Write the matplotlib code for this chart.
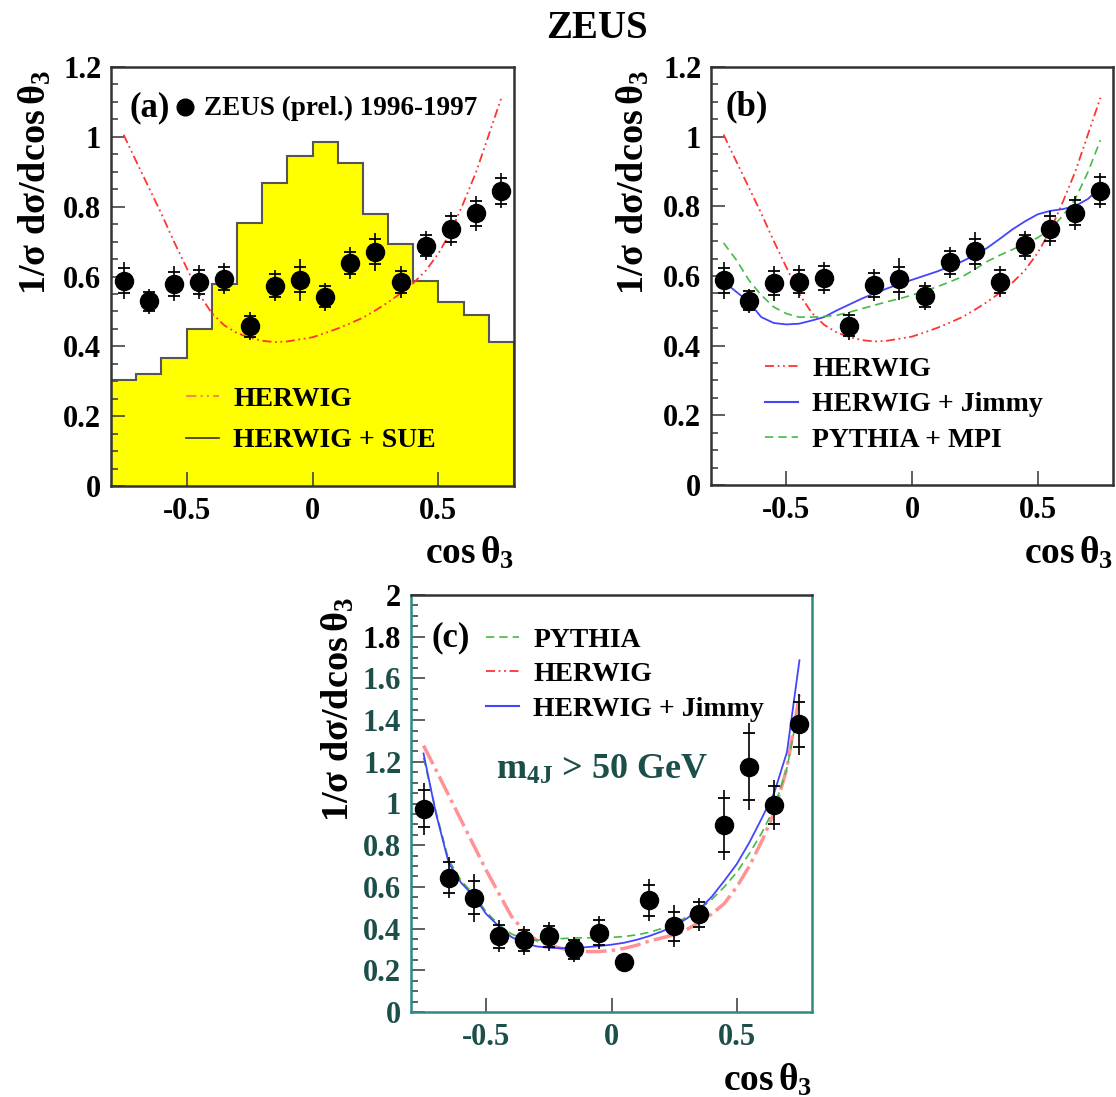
import matplotlib
matplotlib.use('Agg')
import matplotlib.pyplot as plt
from matplotlib.lines import Line2D
from matplotlib.ticker import MultipleLocator

plt.rcParams['font.family'] = ['Liberation Serif', 'DejaVu Serif']
plt.rcParams['font.weight'] = 'bold'
plt.rcParams['mathtext.fontset'] = 'custom'
plt.rcParams['mathtext.rm'] = 'Liberation Serif:bold'
plt.rcParams['mathtext.it'] = 'Liberation Serif'
plt.rcParams['mathtext.bf'] = 'Liberation Serif:bold'

# bin centres and edges
xc = [-0.75, -0.65, -0.55, -0.45, -0.35, -0.25, -0.15, -0.05,
      0.05, 0.15, 0.25, 0.35, 0.45, 0.55, 0.65, 0.75]
edges = [-0.8, -0.7, -0.6, -0.5, -0.4, -0.3, -0.2, -0.1, 0.0,
         0.1, 0.2, 0.3, 0.4, 0.5, 0.6, 0.7, 0.8]

# ZEUS data, panels a and b
data_ab = [0.588, 0.529, 0.579, 0.584, 0.594, 0.457, 0.574, 0.591,
           0.542, 0.639, 0.671, 0.584, 0.688, 0.736, 0.781, 0.845]
tot_ab = [0.053, 0.035, 0.05, 0.048, 0.045, 0.04, 0.045, 0.06,
          0.04, 0.045, 0.055, 0.045, 0.042, 0.05, 0.05, 0.05]
stat_ab = [0.036, 0.028, 0.034, 0.034, 0.034, 0.03, 0.034, 0.036,
           0.03, 0.032, 0.036, 0.032, 0.03, 0.036, 0.036, 0.038]

# HERWIG + SUE histogram (a)
sue = [0.303, 0.320, 0.368, 0.450, 0.579, 0.752, 0.867, 0.945,
       0.986, 0.925, 0.778, 0.693, 0.588, 0.526, 0.489, 0.411]

# model curves, panels a and b
xm = [-0.75, -0.7, -0.65, -0.6, -0.55, -0.5, -0.45, -0.4, -0.35, -0.3,
      -0.25, -0.2, -0.15, -0.1, -0.05, 0.0, 0.05, 0.1, 0.15, 0.2,
      0.25, 0.3, 0.35, 0.4, 0.45, 0.5, 0.55, 0.6, 0.65, 0.7, 0.75]
herwig = [1.006, 0.93, 0.855, 0.78, 0.70, 0.625, 0.55, 0.495, 0.46, 0.438,
          0.425, 0.416, 0.412, 0.414, 0.42, 0.426, 0.438, 0.451, 0.466, 0.482,
          0.503, 0.526, 0.552, 0.581, 0.617, 0.666, 0.73, 0.812, 0.9, 1.006, 1.112]
jimmy = [0.584, 0.555, 0.526, 0.482, 0.465, 0.461, 0.463, 0.472, 0.482, 0.501,
         0.518, 0.535, 0.55, 0.564, 0.577, 0.589, 0.601, 0.613, 0.627, 0.642,
         0.66, 0.681, 0.707, 0.734, 0.757, 0.777, 0.787, 0.792, 0.801, 0.821, 0.855]
pythia_mpi = [0.695, 0.647, 0.589, 0.545, 0.511, 0.492, 0.482, 0.482, 0.484, 0.487,
              0.496, 0.506, 0.516, 0.526, 0.535, 0.545, 0.557, 0.569, 0.583, 0.598,
              0.619, 0.642, 0.66, 0.676, 0.693, 0.71, 0.734, 0.773, 0.821, 0.898, 0.99]

# panel c, m4J > 50 GeV
data_c = [0.975, 0.645, 0.549, 0.364, 0.343, 0.364, 0.300, 0.380,
          0.239, 0.536, 0.412, 0.468, 0.897, 1.177, 0.994, 1.379]
tot_c = [0.125, 0.10, 0.115, 0.075, 0.07, 0.07, 0.06, 0.08,
         0.04, 0.10, 0.10, 0.08, 0.17, 0.21, 0.12, 0.145]
stat_c = [0.09, 0.075, 0.08, 0.055, 0.05, 0.05, 0.045, 0.06,
          0.03, 0.075, 0.07, 0.06, 0.13, 0.16, 0.09, 0.11]
jimmy_c = [1.24, 0.95, 0.717, 0.62, 0.556, 0.47, 0.412, 0.36, 0.332, 0.315,
           0.308, 0.306, 0.308, 0.311, 0.316, 0.323, 0.332, 0.346, 0.364, 0.386,
           0.412, 0.448, 0.492, 0.553, 0.629, 0.71, 0.813, 0.93, 1.054, 1.246, 1.687]
pythia_c = [1.22, 0.96, 0.73, 0.63, 0.565, 0.48, 0.42, 0.375, 0.35, 0.345,
            0.348, 0.352, 0.355, 0.356, 0.356, 0.358, 0.362, 0.37, 0.382, 0.40,
            0.425, 0.455, 0.49, 0.54, 0.6, 0.67, 0.76, 0.86, 0.98, 1.17, 1.48]
herwig_c = [1.278, 1.16, 1.04, 0.92, 0.80, 0.68, 0.57, 0.46, 0.39, 0.345,
            0.32, 0.305, 0.295, 0.29, 0.29, 0.295, 0.305, 0.32, 0.34, 0.355,
            0.37, 0.395, 0.43, 0.47, 0.52, 0.6, 0.70, 0.82, 0.96, 1.17, 1.52]

yt_ab = [0, 0.2, 0.4, 0.6, 0.8, 1, 1.2]
yt_c = [0, 0.2, 0.4, 0.6, 0.8, 1, 1.2, 1.4, 1.6, 1.8, 2]
xt = [-0.5, 0, 0.5]

RED = '#ff3333'
BLUE = '#4444ff'
GREEN = '#44bb44'
DASHDOTDOT = (0, (5, 2, 1, 2, 1, 2))
DASHED = (0, (5, 3))

fig = plt.figure(figsize=(11.16, 10.97), dpi=100)
W, H = 1116.0, 1097.0


def add_ax(x0, y0, x1, y1):
    return fig.add_axes([x0 / W, 1 - y1 / H, (x1 - x0) / W, (y1 - y0) / H])


def style(ax, ymax, yticks):
    ax.set_xlim(-0.8, 0.8)
    ax.set_ylim(0, ymax)
    ax.set_yticks(yticks)
    ax.set_yticklabels(['%g' % v for v in yticks])
    ax.yaxis.set_minor_locator(MultipleLocator(0.05))
    ax.set_xticks(xt)
    ax.set_xticklabels(['%g' % v for v in xt])
    ax.tick_params(which='both', direction='in', top=False, right=False,
                   labelsize=22, width=1.2, color='#444444')
    ax.tick_params(which='major', length=10)
    ax.tick_params(which='minor', length=5)
    ax.tick_params(axis='y', pad=7)
    ax.tick_params(axis='x', pad=8)
    for sp in ax.spines.values():
        sp.set_linewidth(1.8)
        sp.set_color('#333333')
    for lab in ax.get_yticklabels() + ax.get_xticklabels():
        lab.set_fontweight('bold')


def data_points(ax, y, tot, stat):
    ax.errorbar(xc, y, yerr=tot, fmt='o', color='black', ms=13,
                elinewidth=1.2, capsize=0, zorder=5)
    ax.errorbar(xc, y, yerr=stat, fmt='none', ecolor='black',
                elinewidth=0, capsize=4.5, capthick=1.3, zorder=5)


ylab = r'1/$\sigma$ d$\sigma$/dcos$\,\theta_3$'
xlab = r'cos$\,\theta_3$'
LEG = dict(loc='upper left', frameon=False, fontsize=20,
           handlelength=1.2, handletextpad=0.5)

# ---------------- panel (a)
axa = add_ax(111, 67, 514, 486)
axa.stairs(sue, edges, fill=True, color='#ffff00', zorder=1)
axa.stairs(sue, edges, color='#555555', lw=1.5, zorder=2)
axa.plot(xm, herwig, color=RED, lw=1.3, ls=DASHDOTDOT, zorder=3)
data_points(axa, data_ab, tot_ab, stat_ab)
style(axa, 1.2, yt_ab)
axa.text(0.047, 0.902, '(a)', transform=axa.transAxes, fontsize=25, va='center')
axa.plot([0.184], [0.905], 'o', color='black', ms=12, transform=axa.transAxes, clip_on=False)
axa.text(0.231, 0.902, 'ZEUS (prel.) 1996-1997', transform=axa.transAxes,
         fontsize=19.5, va='center')
ha = [Line2D([], [], color='#ff8844', lw=1.5, ls=DASHDOTDOT),
      Line2D([], [], color='#333333', lw=1.2)]
axa.legend(ha, ['HERWIG', 'HERWIG + SUE'], bbox_to_anchor=(0.124, 0.298),
           labelspacing=0.59, **LEG)
fig.text(35 / W, 1 - 70 / H, ylab, rotation=90, ha='center', va='top', fontsize=27.5)
fig.text(514 / W, 1 - 553 / H, xlab, ha='right', va='center', fontsize=27)

# ---------------- panel (b)
axb = add_ax(711, 67, 1113, 485)
axb.plot(xm, herwig, color=RED, lw=1.3, ls=DASHDOTDOT, zorder=3)
axb.plot(xm, jimmy, color=BLUE, lw=1.3, zorder=3)
axb.plot(xm, pythia_mpi, color=GREEN, lw=1.2, ls=DASHED, zorder=3)
data_points(axb, data_ab, tot_ab, stat_ab)
style(axb, 1.2, yt_ab)
axb.text(0.037, 0.904, '(b)', transform=axb.transAxes, fontsize=25, va='center')
hb = [Line2D([], [], color=RED, lw=1.3, ls=DASHDOTDOT),
      Line2D([], [], color=BLUE, lw=1.5),
      Line2D([], [], color=GREEN, lw=1.2, ls=DASHED)]
axb.legend(hb, ['HERWIG', 'HERWIG + Jimmy', 'PYTHIA + MPI'],
           bbox_to_anchor=(0.072, 0.368), labelspacing=0.37, **LEG)
fig.text(633 / W, 1 - 70 / H, ylab, rotation=90, ha='center', va='top', fontsize=27.5)
fig.text(1113 / W, 1 - 553 / H, xlab, ha='right', va='center', fontsize=27)

# ---------------- panel (c)
axc = add_ax(411, 595, 812, 1012)
axc.plot(xm, herwig_c, color='#ff7777', lw=2.5, ls=(0, (6, 1.5, 1, 1.5)), alpha=0.8, zorder=3)
axc.plot(xm, pythia_c, color=GREEN, lw=1.2, ls=DASHED, zorder=3)
axc.plot(xm, jimmy_c, color=BLUE, lw=1.3, zorder=3)
data_points(axc, data_c, tot_c, stat_c)
style(axc, 2.0, yt_c)
for lab in axc.get_yticklabels()[:9] + axc.get_xticklabels():
    lab.set_color('#1d4f4a')
for s in ['bottom', 'left', 'right']:
    axc.spines[s].set_color('#2a8c82')
axc.text(0.052, 0.897, '(c)', transform=axc.transAxes, fontsize=25, va='center')
hc = [Line2D([], [], color=GREEN, lw=1.2, ls=DASHED),
      Line2D([], [], color=RED, lw=1.3, ls=DASHDOTDOT),
      Line2D([], [], color=BLUE, lw=1.5)]
axc.legend(hc, ['PYTHIA', 'HERWIG', 'HERWIG + Jimmy'],
           bbox_to_anchor=(0.125, 0.983), labelspacing=0.33, **LEG)
axc.text(0.212, 0.58, r'm$_{\mathbf{4J}}$ > 50 GeV', transform=axc.transAxes,
         fontsize=26, va='center', color='#1d4f4a')
fig.text(338 / W, 1 - 597 / H, ylab, rotation=90, ha='center', va='top', fontsize=27.5)
fig.text(812 / W, 1 - 1080 / H, xlab, ha='right', va='center', fontsize=27)

fig.text(597 / W, 1 - 28 / H, 'ZEUS', ha='center', va='center', fontsize=28)

fig.savefig('out.png', dpi=100)
